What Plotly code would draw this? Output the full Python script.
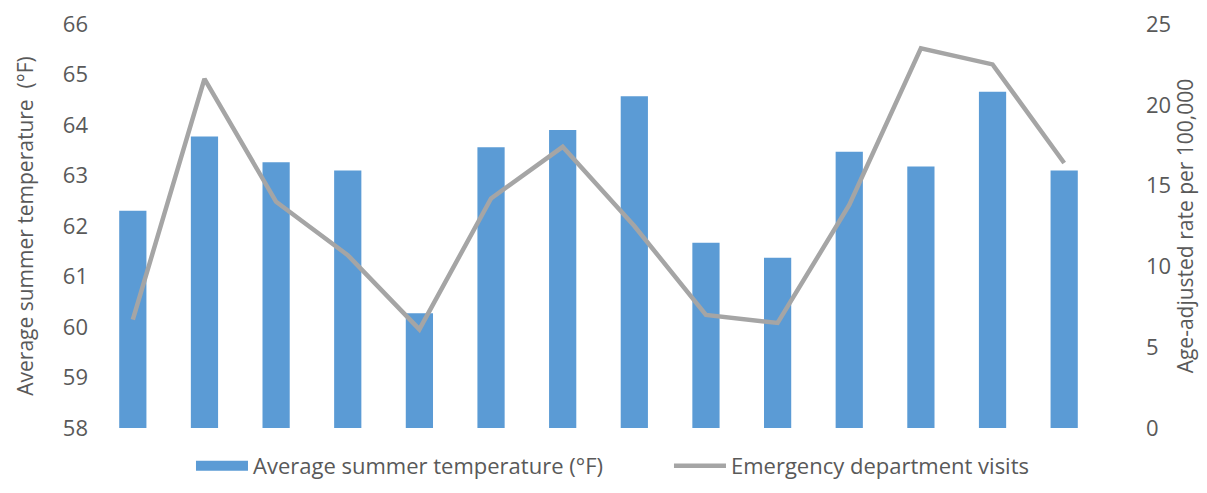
import plotly.graph_objects as go

categories = [str(i) for i in range(1, 15)]
temperature = [62.30, 63.77, 63.26, 63.10, 60.27, 63.56, 63.90, 64.57, 61.67, 61.37, 63.47, 63.18, 64.66, 63.10]
ed_visits = [6.7, 21.6, 14.0, 10.7, 6.1, 14.2, 17.4, 12.5, 7.0, 6.5, 13.8, 23.5, 22.5, 16.4]

GREY = "#595959"
BLUE = "#5B9BD5"
LINE_GREY = "#A5A5A5"
FONT = "Open Sans, Noto Sans, sans-serif"

fig = go.Figure()
fig.add_trace(go.Bar(
    x=categories, y=temperature, name="Average summer temperature (°F)",
    marker=dict(color=BLUE, line=dict(width=0)), yaxis="y", showlegend=False,
))
# legend swatch for the bars (wide rectangle like the original)
fig.add_trace(go.Scatter(
    x=[None], y=[None], name="Average summer temperature (°F)",
    mode="lines", line=dict(color=BLUE, width=12), yaxis="y", hoverinfo="skip",
))
fig.add_trace(go.Scatter(
    x=categories, y=ed_visits, name="Emergency department visits",
    mode="lines", line=dict(color=LINE_GREY, width=4.5), yaxis="y2",
))

# page body has an 8px default margin; size the figure so the page fits the window exactly
fig.update_layout(
    width=1191, height=477,
    margin=dict(l=89, r=99, t=16, b=57),
    paper_bgcolor="white", plot_bgcolor="white",
    font=dict(family=FONT, size=22, color=GREY),
    bargap=0.62,
    showlegend=True,
    legend=dict(orientation="h", x=0.0937, xanchor="left",
                yref="container", y=0.0398, yanchor="middle",
                font=dict(size=22, color=GREY), itemwidth=52,
                entrywidth=411, entrywidthmode="pixels"),
    xaxis=dict(showticklabels=False, showgrid=False, zeroline=False, showline=False, ticks=""),
    yaxis=dict(range=[58, 66], dtick=1, showgrid=False, zeroline=False, showline=False,
               automargin=False, ticklabelstandoff=8, ticklabeloverflow="allow",
               title=dict(text="Average summer temperature  (°F)", font=dict(size=21, color=GREY), standoff=23),
               tickfont=dict(size=22, color=GREY)),
    yaxis2=dict(range=[0, 25], dtick=5, overlaying="y", side="right", showgrid=False,
                zeroline=False, showline=False, automargin=False, ticklabelstandoff=45,
                ticklabeloverflow="allow",
                title=dict(text="Age-adjusted rate per 100,000", font=dict(size=21, color=GREY), standoff=15),
                tickfont=dict(size=22, color=GREY)),
)

fig.write_html("out.html")
